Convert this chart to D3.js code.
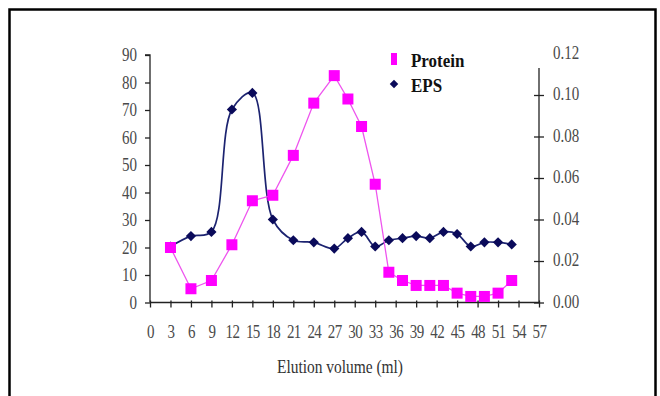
<!DOCTYPE html>
<html>
<head>
<meta charset="utf-8">
<script src="https://cdn.jsdelivr.net/npm/d3@7"></script>
<style>
  html, body { margin: 0; padding: 0; background: #fff; }
  svg { display: block; }
  svg text { font-family: "Liberation Serif", "Times New Roman", serif !important; }
</style>
</head>
<body>
<svg id="chart" width="660" height="396"></svg>
<script>
// Elution volume (ml)
const elution = [3, 6, 9, 12, 15, 18, 21, 24, 27, 29, 31, 33, 35, 37, 39, 41, 43, 45, 47, 49, 51, 53];
// Protein (left axis)
const protein = [20, 5, 8, 21, 37, 39, 53.5, 72.5, 82.5, 74, 64, 43, 11, 8, 6.2, 6.2, 6.2, 3.4, 2.2, 2.2, 3.4, 8];
// EPS (right axis)
const eps = [0.027, 0.032, 0.034, 0.093, 0.101, 0.040, 0.030, 0.029, 0.026, 0.031, 0.034, 0.027, 0.030, 0.031, 0.032, 0.031, 0.034, 0.033, 0.027, 0.029, 0.029, 0.028];

const xTicks = d3.range(0, 58, 3);
const leftTicks = [0, 10, 20, 30, 40, 50, 60, 70, 80, 90];
const rightTicks = [0, 0.02, 0.04, 0.06, 0.08, 0.10, 0.12];
const xTitle = "Elution volume (ml)";
const seriesNames = ["Protein", "EPS"];

const svg = d3.select("#chart");
const serif = "Liberation Serif";
const SY = 1.27; // vertical stretch of the scanned text

// frame
svg.append("rect").attr("x", 9.5).attr("y", 9.5).attr("width", 646).attr("height", 410)
  .attr("fill", "none").attr("stroke", "#000").attr("stroke-width", 2.5);

const x = d3.scaleLinear().domain([0, 57]).range([150, 539]);
const yL = d3.scaleLinear().domain([0, 90]).range([302.5, 55]);
const yR = d3.scaleLinear().domain([0, 0.12]).range([302.5, 53.5]);

const axisColor = "#222";
const labelColor = "#4a4a4a";

function stretch(sel, tx, ty, anchor) {
  sel.attr("x", 0).attr("y", 0).attr("dy", "0.35em")
    .attr("text-anchor", anchor)
    .attr("font-family", serif).attr("font-size", 15).attr("fill", labelColor)
    .attr("transform", `translate(${tx},${ty}) scale(1,${SY})`);
}

// left axis
const gL = svg.append("g").attr("transform", "translate(150,0)")
  .call(d3.axisLeft(yL).tickValues(leftTicks).tickSize(5).tickFormat(d3.format("d")))
  .attr("font-family", serif);
gL.select(".domain").attr("stroke", axisColor).attr("stroke-width", 1.3).attr("d", `M0,${yL(0)}V${yL(90)}h-5`);
gL.selectAll(".tick line").attr("stroke", axisColor).attr("stroke-width", 1.3);
stretch(gL.selectAll(".tick text"), -13, -1, "end");

// right axis
const gR = svg.append("g").attr("transform", "translate(539,0)")
  .call(d3.axisRight(yR).tickValues(rightTicks).tickSize(5).tickFormat(d3.format(".2f")))
  .attr("font-family", serif);
gR.select(".domain").attr("stroke", axisColor).attr("stroke-width", 1.3).attr("d", `M0,${yR(0)}V${yR(0.113)}`);
gR.selectAll(".tick line").attr("stroke", axisColor).attr("stroke-width", 1.3)
  .attr("x1", -5).attr("x2", 5).filter(d => d === 0.12).remove();
stretch(gR.selectAll(".tick text"), 14, -2, "start");

// bottom axis
const gB = svg.append("g").attr("transform", `translate(0,${yL(0)})`)
  .call(d3.axisBottom(x).tickValues(xTicks).tickSize(5).tickFormat(d3.format("d")))
  .attr("font-family", serif);
gB.select(".domain").attr("stroke", axisColor).attr("stroke-width", 1.3).attr("d", `M${x(0)},0H${x(57)}`);
gB.selectAll(".tick line").attr("stroke", axisColor).attr("stroke-width", 1.3).attr("y1", -2);
stretch(gB.selectAll(".tick text"), 0, 29, "middle");
gB.selectAll(".tick text").style("letter-spacing", "-0.6px");

// x title
svg.append("text").attr("text-anchor", "middle").attr("dy", "0.35em")
  .attr("transform", `translate(340,366) scale(1,${SY})`)
  .attr("font-family", serif).attr("font-size", 15).attr("fill", "#333")
  .attr("textLength", 126).attr("lengthAdjust", "spacingAndGlyphs").text(xTitle);

const protData = elution.map((e, i) => ({ x: e, y: protein[i] }));
const epsData = elution.map((e, i) => ({ x: e, y: eps[i] }));

// EPS line (smoothed)
svg.append("path").datum(epsData)
  .attr("fill", "none").attr("stroke", "#1c2370").attr("stroke-width", 1.7)
  .attr("d", d3.line().x(d => x(d.x)).y(d => yR(d.y)).curve(d3.curveCatmullRom.alpha(0.5)));

// Protein line
svg.append("path").datum(protData)
  .attr("fill", "none").attr("stroke", "#ee55ee").attr("stroke-width", 1.3)
  .attr("d", d3.line().x(d => x(d.x)).y(d => yL(d.y)));

// EPS markers (diamonds)
const diamond = d3.symbol().type(d3.symbolSquare).size(52);
svg.append("g").selectAll("path").data(epsData).join("path")
  .attr("transform", d => `translate(${x(d.x)},${yR(d.y)}) rotate(45)`)
  .attr("d", diamond).attr("fill", "#0a0a5a");

// Protein markers (squares)
svg.append("g").selectAll("rect").data(protData).join("rect")
  .attr("x", d => x(d.x) - 5.5).attr("y", d => yL(d.y) - 5.5)
  .attr("width", 11).attr("height", 11).attr("fill", "#ff00ff");

// legend
const leg = svg.append("g").attr("font-family", serif);
leg.append("rect").attr("x", 391).attr("y", 53).attr("width", 6).attr("height", 12).attr("fill", "#ff00ff");
leg.append("text").attr("dy", "0.35em").attr("transform", "translate(411,60) scale(1,1.15)")
  .attr("font-family", serif).attr("font-size", 17).attr("font-weight", "bold")
  .attr("fill", "#111").text(seriesNames[0]);
leg.append("path").attr("transform", "translate(394,84) rotate(45)")
  .attr("d", d3.symbol().type(d3.symbolSquare).size(36)).attr("fill", "#0a0a5a");
leg.append("text").attr("dy", "0.35em").attr("transform", "translate(411,85) scale(1,1.15)")
  .attr("font-family", serif).attr("font-size", 17).attr("font-weight", "bold")
  .attr("fill", "#111").text(seriesNames[1]);
</script>
</body>
</html>
